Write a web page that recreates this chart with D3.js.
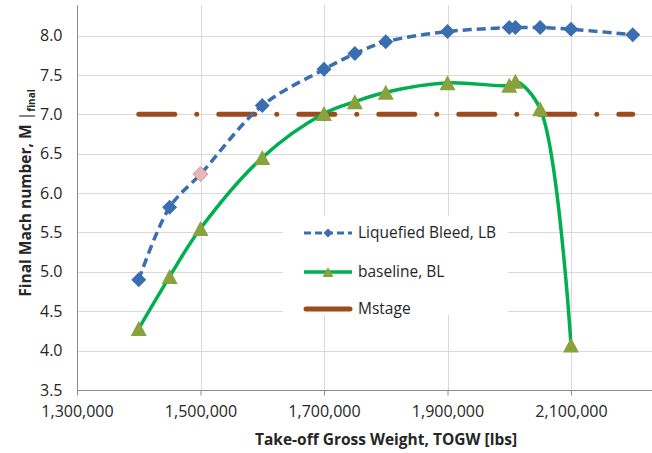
<!DOCTYPE html>
<html>
<head>
<meta charset="utf-8">
<script src="https://cdn.jsdelivr.net/npm/d3@7"></script>
<style>
  html, body { margin: 0; padding: 0; background: #fff; }
  svg { display: block; }
  text { font-family: "Open Sans", "Liberation Sans", sans-serif; fill: #262626; }
</style>
</head>
<body>
<svg id="chart" width="652" height="453"></svg>
<script>
// ---- data ----
const lbX = [1400000, 1450000, 1500000, 1600000, 1700000, 1750000, 1800000, 1900000, 2000000, 2010000, 2050000, 2100000, 2200000];
const lbY = [4.90, 5.82, 6.24, 7.11, 7.57, 7.77, 7.92, 8.05, 8.10, 8.10, 8.10, 8.08, 8.01];
const blX = [1400000, 1450000, 1500000, 1600000, 1700000, 1750000, 1800000, 1900000, 2000000, 2010000, 2050000, 2100000];
const blY = [4.28, 4.94, 5.55, 6.45, 7.01, 7.16, 7.28, 7.40, 7.37, 7.42, 7.07, 4.07];
const msX = [1400000, 2200000];
const msY = [7.0, 7.0];
const xTicks = [1300000, 1500000, 1700000, 1900000, 2100000];
const yTicks = [3.5, 4.0, 4.5, 5.0, 5.5, 6.0, 6.5, 7.0, 7.5, 8.0];
const seriesNames = ["Liquefied Bleed, LB", "baseline, BL", "Mstage"];
const lbHighlightIndex = 2;

// ---- layout ----
const svg = d3.select("#chart");
const pL = 77, pB = 390, pT = 5, pR = 652;
const x = d3.scaleLinear().domain([1300000, 2300000]).range([pL, pL + 5 * 123.5]);
const y = d3.scaleLinear().domain([3.5, 8.0]).range([pB, 35.5]);

const C = {
  grid: "#d9d9d9", axis: "#8c8c8c",
  blue: "#3a6eb0", green: "#00b050", tri: "#8aa23d", brown: "#9e4a1e",
  pinkFill: "#e6b9b8", pinkStroke: "#d99694"
};

// gridlines
const g = svg.append("g");
g.selectAll("line.hg").data(yTicks.filter(v => v > 3.5)).join("line")
  .attr("x1", pL).attr("x2", pR)
  .attr("y1", d => Math.round(y(d)) + 0.5).attr("y2", d => Math.round(y(d)) + 0.5)
  .attr("stroke", C.grid).attr("stroke-width", 1);
g.selectAll("line.vg").data(xTicks.filter(v => v > 1300000)).join("line")
  .attr("x1", d => Math.round(x(d)) + 0.5).attr("x2", d => Math.round(x(d)) + 0.5)
  .attr("y1", pT).attr("y2", pB)
  .attr("stroke", C.grid).attr("stroke-width", 1);

// axes
const xAxis = d3.axisBottom(x).tickValues(xTicks).tickSize(5).tickPadding(10)
  .tickFormat(d3.format(","));
const xg = svg.append("g").attr("transform", `translate(0,${pB + 0.5})`).call(xAxis);
xg.select(".domain").remove();
xg.append("line").attr("x1", pL).attr("x2", pR).attr("stroke", C.axis);
xg.selectAll(".tick line").attr("stroke", C.axis);
xg.selectAll(".tick text").attr("font-size", 16).attr("fill", "#262626")
  .attr("font-family", "Open Sans");

const yAxis = d3.axisLeft(y).tickValues(yTicks).tickSize(0).tickPadding(15)
  .tickFormat(d3.format(".1f"));
const yg = svg.append("g").attr("transform", `translate(${pL + 0.5},0)`).call(yAxis);
yg.select(".domain").remove();
yg.append("line").attr("y1", pT).attr("y2", pB + 5).attr("stroke", C.axis);
yg.selectAll(".tick text").attr("font-size", 16).attr("fill", "#262626")
  .attr("font-family", "Open Sans");

// axis titles
svg.append("text")
  .attr("x", 386).attr("y", 445).attr("text-anchor", "middle")
  .attr("font-size", 15.5).attr("font-weight", "bold")
  .text("Take-off Gross Weight, TOGW [lbs]");

const yt = svg.append("text")
  .attr("transform", "translate(31,193) rotate(-90)")
  .attr("text-anchor", "middle")
  .attr("font-size", 15.5).attr("font-weight", "bold");
yt.append("tspan").text("Final Mach number, M");
yt.append("tspan").attr("font-weight", "normal").text(" |");
yt.append("tspan").attr("font-size", 10).attr("dy", 4).text("final");

// lines
const lbData = lbX.map((v, i) => [v, lbY[i]]);
const blData = blX.map((v, i) => [v, blY[i]]);
const msData = msX.map((v, i) => [v, msY[i]]);

const smooth = d3.line().x(d => x(d[0])).y(d => y(d[1])).curve(d3.curveCatmullRom.alpha(0.5));
const straight = d3.line().x(d => x(d[0])).y(d => y(d[1]));

svg.append("path").datum(msData).attr("d", straight)
  .attr("fill", "none").attr("stroke", C.brown).attr("stroke-width", 5)
  .attr("stroke-linecap", "round").attr("stroke-dasharray", "36,22,0.01,22");

svg.append("path").datum(blData).attr("d", smooth)
  .attr("fill", "none").attr("stroke", C.green).attr("stroke-width", 3.5);

svg.append("path").datum(lbData).attr("d", smooth)
  .attr("fill", "none").attr("stroke", C.blue).attr("stroke-width", 3.5)
  .attr("stroke-dasharray", "9,5");

// markers
const diamond = s => `M0,${-s}L${s},0L0,${s}L${-s},0Z`;
const triangle = (w, h) => `M0,${-h}L${w},${h}L${-w},${h}Z`;

svg.append("g").selectAll("path").data(blData).join("path")
  .attr("transform", d => `translate(${x(d[0])},${y(d[1])})`)
  .attr("d", triangle(8, 7.5)).attr("fill", C.tri);

svg.append("g").selectAll("path").data(lbData).join("path")
  .attr("transform", d => `translate(${x(d[0])},${y(d[1])})`)
  .attr("d", diamond(7.5))
  .attr("fill", (d, i) => i === lbHighlightIndex ? C.pinkFill : C.blue)
  .attr("stroke", (d, i) => i === lbHighlightIndex ? C.pinkStroke : "none")
  .attr("stroke-width", 1);

// legend
const lg = svg.append("g");
lg.append("rect").attr("x", 283).attr("y", 216).attr("width", 225).attr("height", 99).attr("fill", "#fff");
const rows = [233, 272, 309];
const sx1 = 304, sx2 = 352, smid = 328;
// LB
lg.append("line").attr("x1", sx1).attr("x2", sx2).attr("y1", rows[0]).attr("y2", rows[0])
  .attr("stroke", C.blue).attr("stroke-width", 3).attr("stroke-dasharray", "7,4");
lg.append("path").attr("transform", `translate(${smid},${rows[0]})`).attr("d", diamond(4.5)).attr("fill", C.blue);
// BL
lg.append("line").attr("x1", sx1).attr("x2", sx2).attr("y1", rows[1]).attr("y2", rows[1])
  .attr("stroke", C.green).attr("stroke-width", 3.5);
lg.append("path").attr("transform", `translate(${smid},${rows[1]})`).attr("d", triangle(5.5, 5)).attr("fill", C.tri);
// Mstage
lg.append("line").attr("x1", sx1 + 2).attr("x2", sx2 - 2).attr("y1", rows[2]).attr("y2", rows[2])
  .attr("stroke", C.brown).attr("stroke-width", 5).attr("stroke-linecap", "round");

lg.selectAll("text").data(seriesNames).join("text")
  .attr("x", 358).attr("y", (d, i) => rows[i]).attr("dy", "0.35em")
  .attr("font-size", 15.5).text(d => d);
</script>
</body>
</html>
